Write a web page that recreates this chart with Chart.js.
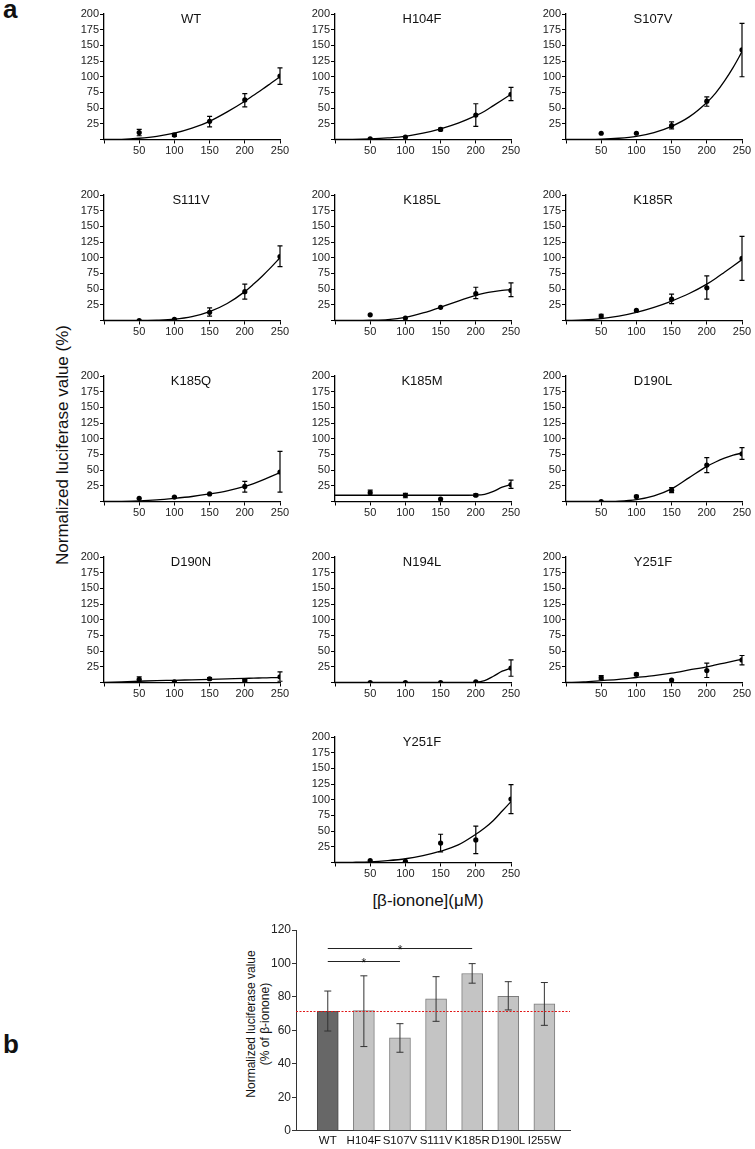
<!DOCTYPE html>
<html>
<head>
<meta charset="utf-8">
<script src="https://cdn.jsdelivr.net/npm/chart.js@4.4.0/dist/chart.umd.min.js"></script>
<style>
  body { margin: 0; background: #fff; width: 755px; height: 1149px; position: relative; overflow: hidden;
         font-family: "Liberation Sans", Arial, sans-serif; color: #111; }
  canvas { position: absolute; }
  .lbl { position: absolute; white-space: nowrap; }
</style>
</head>
<body>
<div class="lbl" style="left:3px;top:-4px;font-size:26px;line-height:26px;font-weight:bold">a</div>
<div class="lbl" style="left:3px;top:1031px;font-size:26px;line-height:26px;font-weight:bold">b</div>
<div class="lbl" style="left:-137px;top:435px;width:400px;text-align:center;font-size:17px;line-height:20px;transform:rotate(-90deg)">Normalized luciferase value (%)</div>
<div class="lbl" style="left:278px;top:891px;width:300px;text-align:center;font-size:17px;line-height:20px">[β-ionone](μM)</div>
<div class="lbl" style="left:158px;top:1010px;width:200px;text-align:center;font-size:12px;line-height:14px;transform:rotate(-90deg)">Normalized luciferase value<br>(% of β-ionone)</div>

<script>
// panel a: dose-response per mutant
const PANEL_NAMES = ['WT', 'H104F', 'S107V', 'S111V', 'K185L', 'K185R', 'K185Q', 'K185M', 'D190L', 'D190N', 'N194L', 'Y251F', 'Y251F'];
const DOSES = [50, 100, 150, 200, 250];
const MEAN = [
  [11, 7, 29, 63, 101],
  [1, 4, 16, 39, 72],
  [10, 10, 22, 61, 143],
  [0, 2, 13, 46, 102],
  [9, 4, 21, 43, 48],
  [7, 16, 34, 52, 99],
  [5, 7, 12, 24, 47],
  [14, 10, 4, 10, 27],
  [0, 8, 18, 58, 76],
  [5, 1, 6, 3, 9],
  [0, 0, 0, 1, 23],
  [8, 13, 4, 19, 36],
  [3, 2, 31, 36, 101]
];
const LOW = [
  [6, 5, 20, 52, 88],
  [1, 4, 14, 21, 62],
  [10, 10, 17, 53, 100],
  [0, 2, 7, 34, 86],
  [9, 4, 21, 35, 38],
  [4, 16, 27, 34, 64],
  [5, 6, 12, 15, 15],
  [10, 6, 4, 8, 21],
  [0, 6, 14, 46, 67],
  [2, 1, 4, 1, 2],
  [0, 0, 0, 1, 10],
  [5, 11, 4, 8, 28],
  [3, 2, 17, 14, 78]
];
const HIGH = [
  [16, 10, 37, 73, 114],
  [1, 4, 18, 57, 83],
  [10, 10, 28, 68, 185],
  [0, 2, 20, 58, 119],
  [9, 4, 21, 53, 60],
  [10, 16, 42, 71, 134],
  [5, 8, 12, 32, 80],
  [18, 13, 4, 12, 34],
  [0, 10, 22, 70, 86],
  [9, 1, 8, 5, 17],
  [0, 0, 0, 1, 36],
  [11, 15, 4, 31, 43],
  [3, 2, 45, 58, 124]
];
// fitted curves
const CURVE_X = [0, 25, 50, 75, 100, 125, 150, 175, 200, 212.5, 225, 237.5, 250];
const FIT = [
  [0, 0.3, 2, 5, 10, 18, 29, 44, 61, 70.5, 80, 90, 100],
  [0, 0.2, 1, 2.5, 5, 10, 17, 26, 38, 45, 54, 63, 72],
  [0, 0.1, 0.5, 2, 5, 11, 21, 36, 59, 74, 93, 115, 140],
  [0, 0, 0.2, 0.6, 2, 6, 14, 27, 46, 58, 71, 85, 100],
  [0, 0.1, 0.5, 1.5, 5, 12, 21, 31, 40, 43.5, 46, 48, 49],
  [0, 0.8, 3, 7, 13, 21, 31, 43, 58, 67, 77, 87, 97],
  [0, 0.3, 1, 2.5, 5, 8, 12, 17, 24, 28.5, 34, 40, 46],
  [10, 10, 10, 10, 10, 10, 10, 10, 10.3, 11.5, 16, 23, 27],
  [0, 0, 0, 0.5, 3, 9, 20, 38, 56, 63, 69, 74, 77],
  [0, 1, 2, 3, 3.5, 4.3, 5, 5.8, 6.5, 7, 7.3, 7.7, 8],
  [0, 0, 0, 0, 0, 0, 0, 0, 0.5, 3, 10, 18, 23],
  [0, 1, 3, 5, 8, 11, 15, 20, 25, 28, 31, 34, 37],
  [0, 0.3, 1, 3, 6, 11, 18, 28, 45, 55, 67, 82, 97]
];
const X_TICKS = [0, 50, 100, 150, 200, 250];
const Y_TICKS = [0, 25, 50, 75, 100, 125, 150, 175, 200];

// panel b: bar chart
const BAR_CATS = ['WT', 'H104F', 'S107V', 'S111V', 'K185R', 'D190L', 'I255W'];
const BAR_MEAN = [71.3, 71.8, 55.6, 78.8, 94, 80.4, 75.8];
const BAR_LOW = [59.6, 50.3, 46.9, 65.4, 88.2, 72.2, 63];
const BAR_HIGH = [83.5, 92.6, 64, 92.1, 99.9, 89.1, 88.6];
const BAR_TICKS = [0, 20, 40, 60, 80, 100, 120];
const SIG_PAIRS = [[0, 2, 101.4], [0, 4, 109.4]];

Chart.defaults.font.family = '"Liberation Sans", Arial, sans-serif';
Chart.defaults.color = '#222';

const errorBars = {
  id: 'errorBars',
  afterDatasetsDraw(chart) {
    const ctx = chart.ctx;
    const ys = chart.scales.y;
    chart.data.datasets.forEach((ds, di) => {
      if (!ds.errLo) return;
      const meta = chart.getDatasetMeta(di);
      ctx.save();
      ctx.strokeStyle = ds.errColor || '#000';
      ctx.lineWidth = ds.errWidth || 1.2;
      meta.data.forEach((el, i) => {
        const lo = ds.errLo[i], hi = ds.errHi[i];
        if (lo === hi) return;
        const x = el.x, y1 = ys.getPixelForValue(lo), y2 = ys.getPixelForValue(hi);
        const c = ds.capHalf || 2.5;
        ctx.beginPath();
        ctx.moveTo(x, y1); ctx.lineTo(x, y2);
        ctx.moveTo(x - c, y1); ctx.lineTo(x + c, y1);
        ctx.moveTo(x - c, y2); ctx.lineTo(x + c, y2);
        ctx.stroke();
      });
      ctx.restore();
    });
  }
};

const panelTitle = {
  id: 'panelTitle',
  afterDraw(chart, args, opts) {
    if (!opts.text) return;
    const { ctx, chartArea } = chart;
    ctx.save();
    ctx.font = '13px "Liberation Sans", Arial, sans-serif';
    ctx.fillStyle = '#111';
    ctx.textAlign = 'center';
    ctx.textBaseline = 'middle';
    ctx.fillText(opts.text, (chartArea.left + chartArea.right) / 2 - 1, chartArea.top + 5);
    ctx.restore();
  }
};

const COL_LEFT = [104, 335, 566];
const ROW_TOP = [14, 194.5, 376, 557, 737];
const PLOT_W = 176, PLOT_H = 125.5;

function axisOpts(min, max, ticks, fit) {
  return {
    type: 'linear', min, max,
    afterBuildTicks: s => { s.ticks = ticks.map(v => ({ value: v })); },
    afterFit: fit,
    ticks: { callback: v => v === 0 ? '' : v, font: { size: 11 }, color: '#222', padding: 1,
             autoSkip: false, maxRotation: 0 },
    grid: { drawOnChartArea: false, color: '#000', tickLength: 4, lineWidth: 1 },
    border: { color: '#000', width: 1.3 }
  };
}

PANEL_NAMES.forEach((name, i) => {
  const row = Math.floor(i / 3);
  const col = i === 12 ? 1 : i % 3;
  const cv = document.createElement('canvas');
  const w = 40 + PLOT_W + 14, h = 162;
  cv.width = w; cv.height = h;
  cv.style.left = (COL_LEFT[col] - 40) + 'px';
  cv.style.top = (ROW_TOP[row] - 10) + 'px';
  cv.style.width = w + 'px'; cv.style.height = h + 'px';
  document.body.appendChild(cv);
  new Chart(cv, {
    type: 'line',
    data: {
      datasets: [
        { data: CURVE_X.map((x, j) => ({ x, y: FIT[i][j] })), borderColor: '#000', borderWidth: 1.3,
          pointRadius: 0, cubicInterpolationMode: 'monotone', fill: false },
        { data: DOSES.map((x, j) => ({ x, y: MEAN[i][j] })), showLine: false, pointRadius: 2.6,
          pointBackgroundColor: '#000', pointBorderWidth: 0, errLo: LOW[i], errHi: HIGH[i], capHalf: 2.5 }
      ]
    },
    options: {
      responsive: false, animation: false, devicePixelRatio: 1,
      layout: { padding: { top: 10, right: 14, left: 0, bottom: 0 } },
      plugins: { legend: { display: false }, tooltip: { enabled: false }, panelTitle: { text: name } },
      scales: {
        x: axisOpts(0, 250, X_TICKS, s => { s.height = h - 10 - PLOT_H; }),
        y: axisOpts(0, 200, Y_TICKS, s => { s.width = 40; })
      }
    },
    plugins: [errorBars, panelTitle]
  });
});

// bar chart
const refLine = {
  id: 'refLine',
  afterDatasetsDraw(chart) {
    const { ctx, chartArea, scales } = chart;
    const y = Math.round(scales.y.getPixelForValue(BAR_MEAN[0])) + 0.5;
    ctx.save();
    ctx.strokeStyle = '#e01818';
    ctx.lineWidth = 1;
    ctx.setLineDash([2, 1.5]);
    ctx.beginPath();
    ctx.moveTo(chartArea.left, y); ctx.lineTo(chartArea.right, y);
    ctx.stroke();
    ctx.restore();
  }
};
const sigBrackets = {
  id: 'sigBrackets',
  afterDraw(chart) {
    const { ctx, scales } = chart;
    ctx.save();
    ctx.strokeStyle = '#222';
    ctx.fillStyle = '#111';
    ctx.lineWidth = 1;
    ctx.font = '12px "Liberation Sans", Arial, sans-serif';
    ctx.textAlign = 'center';
    ctx.textBaseline = 'alphabetic';
    SIG_PAIRS.forEach(([a, b, lvl]) => {
      const x1 = scales.x.getPixelForValue(a), x2 = scales.x.getPixelForValue(b);
      const y = Math.round(scales.y.getPixelForValue(lvl)) + 0.5;
      ctx.beginPath(); ctx.moveTo(x1, y); ctx.lineTo(x2, y); ctx.stroke();
      ctx.fillText('*', (x1 + x2) / 2, y + 5);
    });
    ctx.restore();
  }
};

const bc = document.createElement('canvas');
bc.width = 345; bc.height = 234;
bc.style.left = '230px'; bc.style.top = '915px';
bc.style.width = '345px'; bc.style.height = '234px';
document.body.appendChild(bc);
new Chart(bc, {
  type: 'bar',
  data: {
    datasets: [{
      data: BAR_MEAN.map((v, i) => ({ x: i, y: v })),
      backgroundColor: BAR_CATS.map((c, i) => i === 0 ? '#676767' : '#c4c4c4'),
      borderColor: BAR_CATS.map((c, i) => i === 0 ? '#4a4a4a' : '#7d7d7d'),
      borderWidth: 1, barThickness: 21,
      errLo: BAR_LOW, errHi: BAR_HIGH, capHalf: 3.5, errColor: '#333', errWidth: 1
    }]
  },
  options: {
    responsive: false, animation: false, devicePixelRatio: 1,
    layout: { padding: { top: 15, right: 5, left: 0, bottom: 0 } },
    plugins: { legend: { display: false }, tooltip: { enabled: false } },
    scales: {
      x: {
        type: 'linear', min: -0.88, max: 6.71, offset: false,
        afterBuildTicks: s => { s.ticks = BAR_CATS.map((c, i) => ({ value: i })); },
        afterFit: s => { s.height = 18.3; },
        ticks: { callback: v => BAR_CATS[v], font: { size: 11.5 }, color: '#111', padding: 3,
                 autoSkip: false, maxRotation: 0 },
        grid: { display: false, drawTicks: false, tickLength: 0 },
        border: { display: true, color: '#333', width: 1 }
      },
      y: {
        min: 0, max: 120,
        afterBuildTicks: s => { s.ticks = BAR_TICKS.map(v => ({ value: v })); },
        afterFit: s => { s.width = 66; },
        ticks: { font: { size: 12 }, color: '#222', padding: 1 },
        grid: { drawOnChartArea: false, color: '#333', tickLength: 4 },
        border: { color: '#333', width: 1 }
      }
    }
  },
  plugins: [errorBars, refLine, sigBrackets]
});
</script>
</body>
</html>
